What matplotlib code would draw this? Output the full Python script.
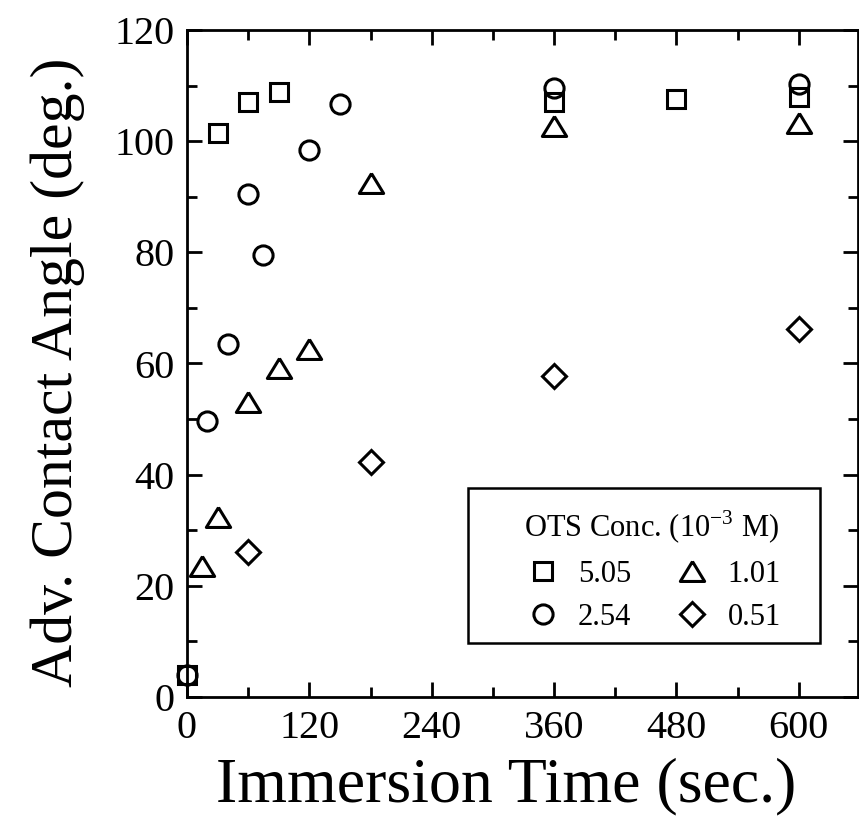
import matplotlib
matplotlib.use('Agg')
from matplotlib import pyplot as plt
from matplotlib.patches import Rectangle
from matplotlib.ticker import MultipleLocator

# Data (time in sec, advancing contact angle in deg.)
time_505 = [0, 30, 60, 90, 360, 480, 600]
angle_505 = [4, 101.5, 107, 108.8, 107, 107.5, 108]

time_254 = [0, 20, 40, 60, 75, 120, 150, 360, 600]
angle_254 = [4, 49.7, 63.5, 90.5, 79.5, 98.4, 106.6, 109.5, 110.2]

time_101 = [15, 30, 60, 90, 120, 180, 360, 600]
angle_101 = [23.5, 32.3, 53, 59.2, 62.6, 92.5, 102.7, 103.2]

time_051 = [60, 180, 360, 600]
angle_051 = [26, 42.2, 57.8, 66.2]

labels = ['5.05', '2.54', '1.01', '0.51']

# plot aspects
tri = [(0, 0.41), (-0.5, -0.41), (0.5, -0.41), (0, 0.41)]
mk = {'sq': dict(marker='s', markersize=12.5),
      'ci': dict(marker='o', markersize=13.8),
      'tr': dict(marker=tri, markersize=17.5),
      'di': dict(marker='D', markersize=12.3)}
mew = 2.2

plt.rcParams['font.family'] = ['Liberation Serif', 'DejaVu Serif']
plt.rcParams['mathtext.fontset'] = 'custom'
plt.rcParams['mathtext.rm'] = 'Liberation Serif'

W, H = 859, 838
fig = plt.figure(figsize=(W / 100, H / 100), dpi=100)
ax = fig.add_axes([187 / W, 1 - 697 / H, (858 - 187) / W, (697 - 30) / H])

series = [(time_505, angle_505, 'sq'), (time_254, angle_254, 'ci'),
          (time_101, angle_101, 'tr'), (time_051, angle_051, 'di')]
for (t, a, key), lab in zip(series, labels):
    ax.plot(t, a, linestyle='none', markerfacecolor='none', markeredgecolor='black',
            markeredgewidth=mew, label=lab, clip_on=False, zorder=3, **mk[key])

ax.set_xlim(0, 658)
ax.set_ylim(0, 120)
ax.xaxis.set_major_locator(MultipleLocator(120))
ax.xaxis.set_minor_locator(MultipleLocator(60))
ax.yaxis.set_major_locator(MultipleLocator(20))
ax.yaxis.set_minor_locator(MultipleLocator(10))
ax.tick_params(which='both', direction='in', top=True, right=True, width=2)
ax.tick_params(which='major', length=11, labelsize=29)
ax.tick_params(which='minor', length=7)
ax.tick_params(axis='x', which='major', pad=9)
ax.tick_params(axis='y', which='major', pad=9)
for s in ax.spines.values():
    s.set_linewidth(2)

ax.set_xlabel('Immersion Time (sec.)', fontsize=46)
ax.set_ylabel('Adv. Contact Angle (deg.)', fontsize=43)
ax.xaxis.set_label_coords(0.475, -0.09)
ax.yaxis.set_label_coords(-0.152, 0.487)

# legend box drawn separately so that its size matches the reference
fig.patches.append(Rectangle((468 / W, 1 - 643 / H), (820 - 468) / W, (643 - 488) / H,
                             transform=fig.transFigure, fill=False, edgecolor='black',
                             linewidth=1.8, zorder=5))
leg = ax.legend(ncol=2, title='OTS Conc. (10$^{-3}$ M)', fontsize=22, title_fontsize=22,
                loc='upper left', bbox_to_anchor=(523 / W, 1 - 509 / H),
                bbox_transform=fig.transFigure, frameon=False, borderaxespad=0,
                borderpad=0, columnspacing=1.35, handletextpad=0.5,
                labelspacing=0.45, handlelength=1.3)

fig.savefig('out.png', dpi=100)
